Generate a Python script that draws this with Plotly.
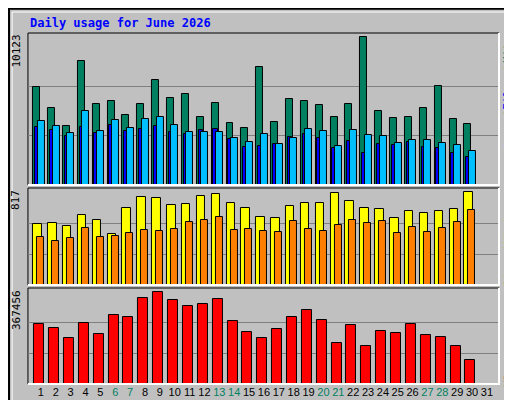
import plotly.graph_objects as go

days = list(range(1, 32))
weekend = [6, 7, 13, 14, 20, 21, 27, 28]

hits = [6688, 5245, 4077, 8474, 5520, 5726, 4764, 5520, 7169, 5932, 6207, 4695, 5588, 4283, 3939,
        8062, 4352, 5863, 5726, 5451, 4695, 5520, 10123, 5039, 4626, 4695, 5245, 6756, 4558, 4214]
files = [4420, 4077, 3596, 5039, 3733, 4489, 3939, 4558, 4695, 4145, 3664, 3664, 3664, 3252, 2977,
         3527, 2840, 3252, 3871, 3733, 2703, 3802, 3458, 3390, 2909, 3115, 3115, 2909, 2771, 2359]
pages = [4008, 3802, 3390, 4008, 3596, 4145, 3733, 3871, 4077, 3664, 3527, 3802, 3871, 3184, 2634,
         2703, 2840, 3321, 3527, 3252, 2565, 3046, 2222, 2840, 2771, 2977, 2634, 2565, 2222, 1947]
visits = [540, 550, 522, 620, 576, 451, 682, 779, 771, 708, 717, 788, 806, 726, 682,
          602, 594, 700, 726, 726, 814, 744, 682, 673, 594, 656, 637, 656, 673, 817]
sites = [425, 390, 416, 505, 425, 434, 460, 487, 478, 496, 557, 576, 602, 487, 496,
         478, 469, 567, 496, 478, 531, 576, 549, 567, 460, 514, 469, 505, 557, 664]
kbytes = [242280, 226130, 185750, 246320, 201900, 274580, 266510, 343230, 367456, 335150,
          310930, 319000, 339190, 254400, 209980, 185750, 222090, 266510, 294770, 258430,
          165560, 238240, 153440, 214010, 205940, 242280, 197860, 189790, 153440, 96910]

x = days[:30]
mono = "DejaVu Sans Mono"
line = dict(color="black", width=1)

fig = go.Figure()
def bar(y, color, off, w, ax):
    fig.add_trace(go.Bar(x=x, y=y, marker=dict(color=color, line=line), offset=off, width=w,
                         yaxis=ax, showlegend=False))

bar(hits, "#008060", -0.52, 0.47, "y")
bar(pages, "#0000FF", -0.4, 0.3, "y")
bar(files, "#00BFFF", -0.22, 0.47, "y")
bar(visits, "#FFFF00", -0.52, 0.57, "y2")
bar(sites, "#FF8000", -0.25, 0.47, "y2")
bar(kbytes, "#FF0000", -0.45, 0.67, "y3")

ticktext = [f'<span style="color:{"#008060" if d in weekend else "black"}">{d}</span>' for d in days]
grid = dict(showticklabels=False, gridcolor="#808080", gridwidth=1, zeroline=False, ticks="")
fig.update_layout(
    width=512, height=400, margin=dict(l=0, r=0, t=0, b=0),
    paper_bgcolor="#C0C0C0", plot_bgcolor="#C0C0C0", barmode="overlay", bargap=0,
    font=dict(family=mono, size=11, color="black"),
    xaxis=dict(domain=[0.039, 0.959], range=[0.13, 31.81], tickvals=days, ticktext=ticktext,
               tickangle=0, showgrid=False, zeroline=False, ticks="", anchor="y3",
               tickfont=dict(size=11, family="Liberation Sans")),
    yaxis=dict(domain=[0.5575, 0.9375], range=[0, 10418], tickvals=[3374, 6749], anchor="x", **grid),
    yaxis2=dict(domain=[0.3075, 0.55], range=[0, 855], tickvals=[272, 545], anchor="x", **grid),
    yaxis3=dict(domain=[0.06, 0.30], range=[0, 384700], tickvals=[122485, 244970], anchor="x", **grid),
)

shapes = [dict(type="rect", xref="paper", yref="paper", x0=0.002, x1=0.998, y0=0.002, y1=0.998,
               line=dict(color="black", width=2)),
          dict(type="rect", xref="paper", yref="paper", x0=0.008, x1=0.99, y0=0.012, y1=0.99,
               line=dict(color="white", width=1))]
for y0, y1 in [(0.5575, 0.9375), (0.3075, 0.55), (0.06, 0.30)]:
    shapes.append(dict(type="rect", xref="paper", yref="paper", x0=0.039, x1=0.959, y0=y0, y1=y1,
                       line=dict(color="black", width=1), layer="below"))
    shapes.append(dict(type="path", xref="paper", yref="paper",
                       path=f"M 0.959 {y1} L 0.959 {y0} L 0.039 {y0}", line=dict(color="white", width=2)))
fig.update_layout(shapes=shapes)

ann = [dict(text="<b>Daily usage for June 2026</b>", x=20 / 512, y=1 - 15 / 400, xanchor="left",
            font=dict(color="#0000FF", size=12, family=mono)),
       dict(text="10123", x=8 / 512, y=0.9375, textangle=-90, yanchor="top"),
       dict(text="817", x=8 / 512, y=0.55, textangle=-90, yanchor="top"),
       dict(text="367456", x=8 / 512, y=0.30, textangle=-90, yanchor="top")]
# right-hand legend words, rotated, centre pixel y from the top
for word, color, py in [("Hits", "#008060", 42), ("/", "black", 62), ("Files", "#0000FF", 86),
                        ("/", "black", 107), ("Pages", "#00BFFF", 124),
                        ("Visits", "#FFFF00", 216), ("/", "black", 242), ("Sites", "#FF8000", 263),
                        ("KBytes", "#FF0000", 359)]:
    ann.append(dict(text=word, x=500 / 512, y=1 - py / 400, textangle=-90,
                    font=dict(color=color, size=11)))
for a in ann:
    a.update(xref="paper", yref="paper", showarrow=False)
    a.setdefault("xanchor", "center")
    a.setdefault("yanchor", "middle")
    a.setdefault("font", dict(size=11))
fig.update_layout(annotations=ann)

fig.write_html("out.html")
